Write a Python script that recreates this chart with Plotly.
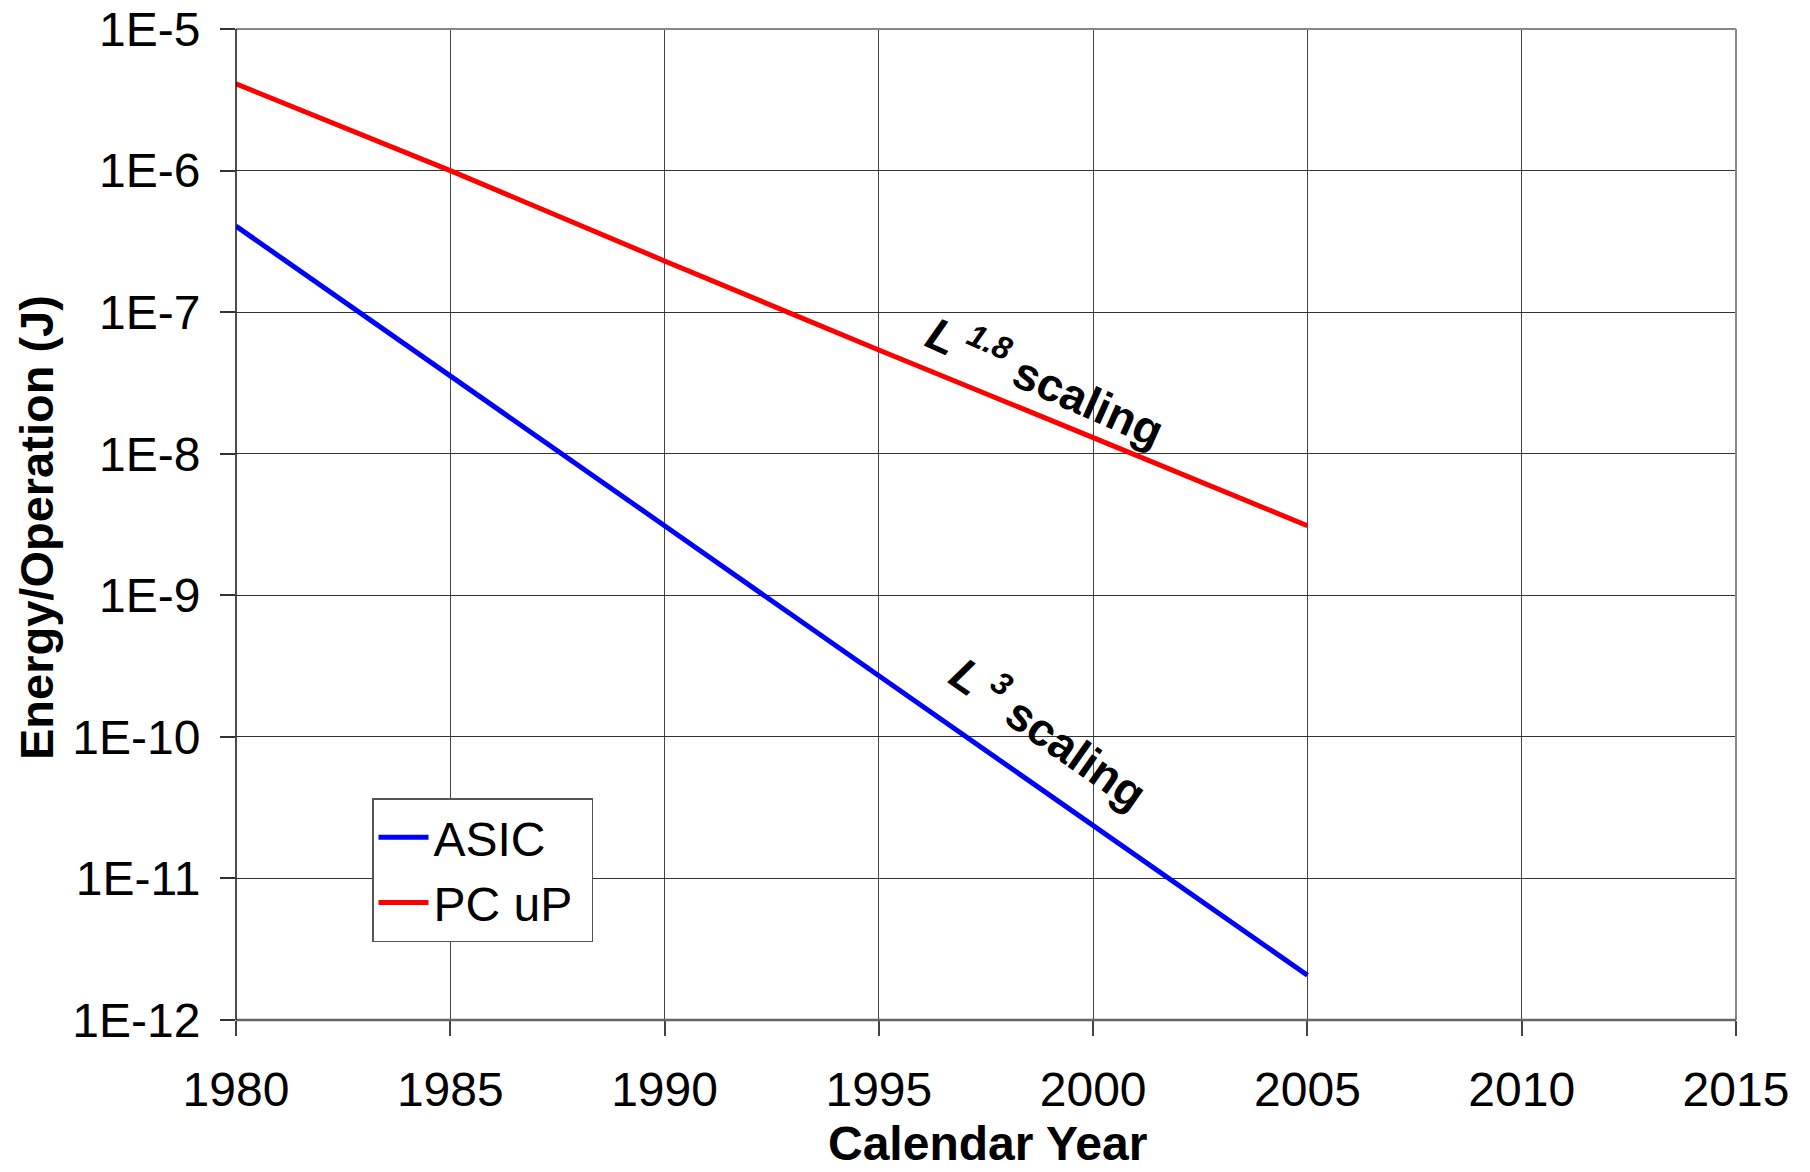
import plotly.graph_objects as go

# ---- data ----
years = [1980, 1985, 1990, 1995, 2000, 2005]
asic_energy = [4.05e-7, 3.5e-8, 3.1e-9, 2.7e-10, 2.35e-11, 2.07e-12]
pcup_energy = [4.1e-6, 1.0e-6, 2.3e-7, 5.4e-8, 1.3e-8, 3.1e-9]

series_names = ["ASIC", "PC uP"]
series_colors = ["#0000FF", "#FF0000"]

x_ticks = [1980, 1985, 1990, 1995, 2000, 2005, 2010, 2015]
y_tickvals = [1e-12, 1e-11, 1e-10, 1e-9, 1e-8, 1e-7, 1e-6, 1e-5]
y_ticktext = ["1E-12", "1E-11", "1E-10", "1E-9", "1E-8", "1E-7", "1E-6", "1E-5"]

FONT = "Liberation Sans, Arial, sans-serif"
W, H = 1810, 1172
L, R, T, B = 236, 74, 29, 152
PW, PH = W - L - R, H - T - B

fig = go.Figure()
for name, vals, col in zip(series_names, [asic_energy, pcup_energy], series_colors):
    # trailing no-break space only widens the legend box a little, like the reference
    fig.add_trace(go.Scatter(x=years, y=vals, mode="lines", name=name + "\u00a0",
                             line=dict(color=col, width=5)))

fig.update_layout(
    width=W, height=H,
    margin=dict(l=L, r=R, t=T, b=B, pad=0, autoexpand=False),
    paper_bgcolor="white", plot_bgcolor="white",
    font=dict(family=FONT, color="black", size=48),
    showlegend=True,
    legend=dict(x=(372 - L) / PW, y=(H - B - 798) / PH,
                xanchor="left", yanchor="top",
                bordercolor="#555555", borderwidth=1.5, bgcolor="white",
                font=dict(size=48, family=FONT), tracegroupgap=0,
                itemwidth=50),
)

fig.update_xaxes(range=[1980, 2015], tickvals=x_ticks, ticks="outside", ticklen=15,
                 tickcolor="#444444", tickwidth=1.5, automargin=False,
                 showgrid=True, gridcolor="#444444", gridwidth=1,
                 zeroline=False, showline=False, ticklabelstandoff=12,
                 tickfont=dict(size=48, family=FONT))
fig.update_yaxes(type="log", range=[-12, -5], tickvals=y_tickvals, ticktext=y_ticktext,
                 ticks="outside", ticklen=15, tickcolor="#333333", tickwidth=1.5,
                 automargin=False,
                 showgrid=True, gridcolor="#333333", gridwidth=1.2,
                 zeroline=False, showline=False, ticklabelstandoff=10,
                 tickfont=dict(size=48, family=FONT))

# plot frame
fig.add_shape(type="line", xref="paper", yref="paper", x0=0, x1=1, y0=1, y1=1,
              line=dict(color="#888888", width=2))
fig.add_shape(type="line", xref="paper", yref="paper", x0=1, x1=1, y0=0, y1=1,
              line=dict(color="#888888", width=2))
fig.add_shape(type="line", xref="paper", yref="paper", x0=0, x1=1, y0=0, y1=0,
              line=dict(color="#666666", width=2.5))
fig.add_shape(type="line", xref="paper", yref="paper", x0=0, x1=0, y0=0, y1=1,
              line=dict(color="#111111", width=1.5))

# axis titles
fig.add_annotation(text="<b>Calendar Year</b>", xref="paper", yref="paper",
                   x=(987 - L) / PW, y=-(B - 1) / PH, xanchor="center", yanchor="bottom",
                   borderpad=0, showarrow=False, font=dict(size=48, family=FONT))
fig.add_annotation(text="<b>Energy/Operation (J)</b>", xref="paper", yref="paper",
                   x=-(L - 36) / PW, y=(H - B - 528) / PH,
                   xanchor="center", yanchor="middle", textangle=-90,
                   showarrow=False, font=dict(size=47, family=FONT))

# scaling labels
fig.add_annotation(text="<b><i>L</i>\u2009<sup><i>1.8</i></sup> scaling</b>",
                   x=1998.9, y=-7.47, xref="x", yref="y", textangle=24,
                   showarrow=False, font=dict(size=46, family=FONT))
fig.add_annotation(text="<b><i>L</i>\u2009<sup><i>3</i></sup> scaling</b>",
                   x=1999.0, y=-9.96, xref="x", yref="y", textangle=35,
                   showarrow=False, font=dict(size=46, family=FONT))

fig.write_html("out.html")
